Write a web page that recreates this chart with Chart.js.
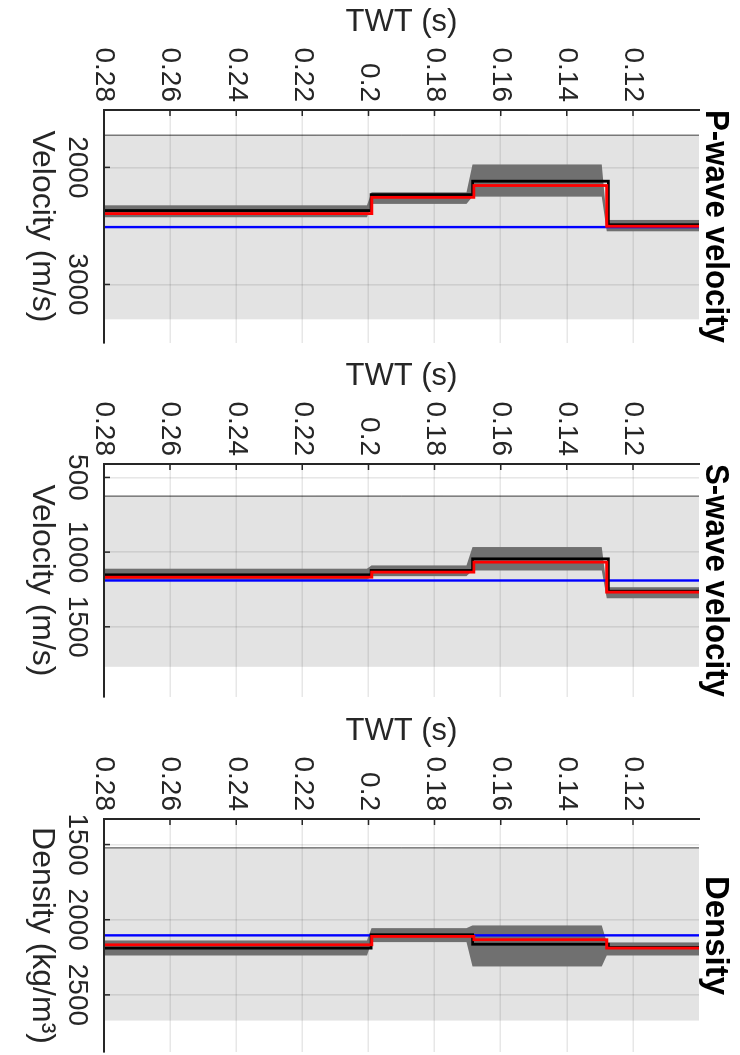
<!DOCTYPE html>
<html>
<head>
<meta charset="utf-8">
<title>Elastic inversion logs</title>
<script src="https://cdn.jsdelivr.net/npm/chart.js@4.4.1/dist/chart.umd.min.js"></script>
<style>
  html, body { margin: 0; padding: 0; background: #fff; overflow: hidden; width: 740px; height: 1055px; }
  /* The three logs are laid out side by side, then the whole figure is turned a quarter clockwise */
  #fig { position: absolute; left: 0; top: 0; width: 1055px; height: 740px; background: #fff;
         transform-origin: 0 0; transform: translate(740px, 0) rotate(90deg); }
  #fig canvas { position: absolute; top: 0; }
</style>
</head>
<body>
<div id="fig">
  <canvas id="vpLog" width="346" height="740" style="left:0px"></canvas>
  <canvas id="vsLog" width="346" height="740" style="left:354px"></canvas>
  <canvas id="rhoLog" width="346" height="740" style="left:709px"></canvas>
</div>
<script>
// Two-way time window and its tick marks, shared by all logs
const twtLimits = [0.10, 0.28];
const twtTicks = [0.12, 0.14, 0.16, 0.18, 0.20, 0.22, 0.24, 0.26, 0.28];

// Layer interfaces (s) of the estimated and true profiles
const meanSteps = [0.199, 0.1681, 0.1279];
const trueSteps = [0.1992, 0.1685, 0.1274];
// Envelope knots around each interface: [end of deeper layer, start of shallower layer]
const envelopeKnots = [[0.2004, 0.1991], [0.1703, 0.1685], [0.1294, 0.1279]];

// Layer values are listed from 0.28 s upward
// P-wave velocity (m/s)
const vpAxis = [1510, 3500];
const vpTicks = [2000, 3000];
const vpBounds = [1725, 3298];
const vpInitial = 2510;
const vpTrue = [2369, 2233, 2118, 2490];
const vpMean = [2395, 2256, 2155, 2503];
const vpLow = [2324, 2213, 1975, 2449];
const vpHigh = [2426, 2312, 2250, 2546];

// S-wave velocity (m/s)
const vsAxis = [410, 1970];
const vsTicks = [500, 1000, 1500];
const vsBounds = [625, 1768];
const vsInitial = 1190;
const vsTrue = [1152, 1123, 1045, 1262];
const vsMean = [1168, 1134, 1067, 1268];
const vsLow = [1111, 1089, 966, 1235];
const vsHigh = [1185, 1161, 1123, 1309];

// Density (kg/m3)
const rhoAxis = [1330, 2880];
const rhoTicks = [1500, 2000, 2500];
const rhoBounds = [1522, 2671];
const rhoInitial = 2104;
const rhoTrue = [2189, 2100, 2163, 2185];
const rhoMean = [2167, 2111, 2133, 2189];
const rhoLow = [2138, 2056, 2038, 2151];
const rhoHigh = [2238, 2149, 2311, 2238];

const FONT = "'Liberation Sans', Arial, Helvetica, sans-serif";
const INK = '#262626';
const TICK_SIZE = 28;
Chart.defaults.font.family = FONT;
Chart.defaults.color = INK;

// Blocky profile: each layer holds its value between consecutive interfaces
function stepProfile(values, steps) {
  const edges = [twtLimits[1], ...steps, twtLimits[0]];
  const pts = [];
  values.forEach((v, i) => {
    pts.push({ x: v, y: edges[i] }, { x: v, y: edges[i + 1] });
  });
  return pts;
}

// Closed outline of the uncertainty envelope (upper edge up, lower edge back down)
function envelope(low, high) {
  const edge = vals => {
    const pts = [{ x: vals[0], y: twtLimits[1] }];
    envelopeKnots.forEach(([a, b], i) => {
      pts.push({ x: vals[i], y: a }, { x: vals[i + 1], y: b });
    });
    pts.push({ x: vals[vals.length - 1], y: twtLimits[0] });
    return pts;
  };
  return edge(high).concat(edge(low).reverse());
}

// Search bounds as an open-topped box
function boundsBox(b) {
  return [
    { x: b[0], y: twtLimits[0] }, { x: b[0], y: twtLimits[1] },
    { x: b[1], y: twtLimits[1] }, { x: b[1], y: twtLimits[0] }
  ];
}

function constantLine(v) {
  return [{ x: v, y: twtLimits[1] }, { x: v, y: twtLimits[0] }];
}

// Short tick marks pointing into the plot box
const inwardTicks = {
  id: 'inwardTicks',
  afterDraw(chart) {
    const { ctx, chartArea: a, scales: { x, y } } = chart;
    ctx.save();
    ctx.strokeStyle = INK;
    ctx.lineWidth = 1.5;
    ctx.beginPath();
    x.ticks.forEach(t => {
      const p = x.getPixelForValue(t.value);
      ctx.moveTo(p, a.bottom); ctx.lineTo(p, a.bottom - 6);
    });
    y.ticks.forEach(t => {
      const p = y.getPixelForValue(t.value);
      ctx.moveTo(a.left, p); ctx.lineTo(a.left + 6, p);
    });
    ctx.stroke();
    ctx.restore();
  }
};

function makeLog(id, title, xTitle, axis, ticks, bounds, initial, truth, mean, low, high) {
  const line = { pointRadius: 0, tension: 0, borderJoinStyle: 'miter', borderCapStyle: 'butt', fill: false };
  return new Chart(document.getElementById(id), {
    type: 'line',
    data: {
      datasets: [
        { ...line, label: 'Mean', data: stepProfile(mean, meanSteps), borderColor: '#ff0000', borderWidth: 2.8 },
        { ...line, label: 'True', data: stepProfile(truth, trueSteps), borderColor: '#000000', borderWidth: 2.8 },
        { ...line, label: 'Initial', data: constantLine(initial), borderColor: '#0000ff', borderWidth: 2.4 },
        { ...line, label: 'Envelope', data: envelope(low, high), borderColor: 'transparent', borderWidth: 0,
          backgroundColor: '#707070', fill: 'shape' },
        { ...line, label: 'Bounds', data: boundsBox(bounds), borderColor: 'rgba(0,0,0,0.30)', borderWidth: 1,
          backgroundColor: 'rgba(0,0,0,0.11)', fill: 'shape' }
      ]
    },
    options: {
      responsive: false,
      animation: false,
      indexAxis: 'y',
      parsing: false,
      normalized: false,
      layout: { padding: { left: 0, right: 3, top: 0, bottom: 0 } },
      plugins: {
        legend: { display: false },
        tooltip: { enabled: false },
        title: {
          display: true, text: title, fullSize: false, color: '#000',
          font: { size: 33, weight: 'bold', lineHeight: 1 },
          padding: { top: 8, bottom: 0 }
        }
      },
      scales: {
        x: {
          type: 'linear', position: 'bottom', min: axis[0], max: axis[1],
          afterBuildTicks: s => { s.ticks = ticks.map(v => ({ value: v })); },
          afterFit: s => { s.height = 104; },
          ticks: { font: { size: TICK_SIZE, family: FONT }, color: INK, padding: 10, maxRotation: 0, autoSkip: false,
                   callback: v => String(v) },
          grid: { color: 'rgba(38,38,38,0.11)', lineWidth: 1.6, drawTicks: false },
          border: { display: true, color: INK, width: 2, z: 1 },
          title: { display: true, text: xTitle, color: INK, font: { size: 32 }, padding: { top: 0, bottom: 23 } }
        },
        y: {
          type: 'linear', position: 'left', reverse: true, min: twtLimits[0], max: twtLimits[1],
          afterBuildTicks: s => { s.ticks = twtTicks.map(v => ({ value: v })); },
          afterFit: s => { s.width = 110; },
          ticks: { font: { size: TICK_SIZE, family: FONT }, color: INK, padding: 8, autoSkip: false,
                   callback: v => String(Number(v.toFixed(2))) },
          grid: { color: 'rgba(38,38,38,0.11)', lineWidth: 1.6, drawTicks: false },
          border: { display: true, color: INK, width: 2, z: 1 },
          title: { display: true, text: 'TWT (s)', color: INK, font: { size: 31 }, padding: { top: 4, bottom: 0 } }
        }
      }
    },
    plugins: [inwardTicks]
  });
}

makeLog('vpLog', 'P-wave velocity', 'Velocity (m/s)', vpAxis, vpTicks, vpBounds, vpInitial, vpTrue, vpMean, vpLow, vpHigh);
makeLog('vsLog', 'S-wave velocity', 'Velocity (m/s)', vsAxis, vsTicks, vsBounds, vsInitial, vsTrue, vsMean, vsLow, vsHigh);
makeLog('rhoLog', 'Density', 'Density (kg/m³)', rhoAxis, rhoTicks, rhoBounds, rhoInitial, rhoTrue, rhoMean, rhoLow, rhoHigh);
</script>
</body>
</html>
